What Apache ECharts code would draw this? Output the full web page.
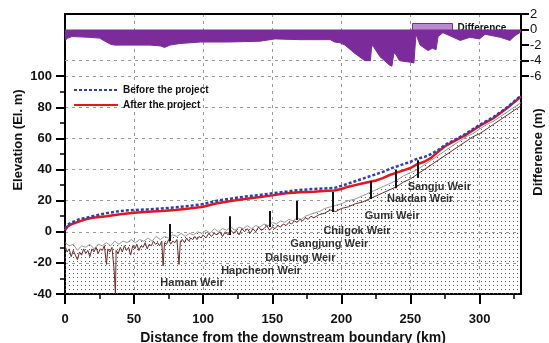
<!DOCTYPE html>
<html>
<head>
<meta charset="utf-8">
<script src="https://cdn.jsdelivr.net/npm/echarts@6/dist/echarts.min.js"></script>
<style>
  html, body { margin: 0; padding: 0; background: #fff; }
  #chart { width: 549px; height: 343px; }
</style>
</head>
<body>
<div id="chart"></div>
<script>
// axis ticks
const xTicks = [0, 50, 100, 150, 200, 250, 300];
const xMinorTicks = [25, 75, 125, 175, 225, 275, 325];
const elevTicks = [-40, -20, 0, 20, 40, 60, 80, 100];
const elevMinorTicks = [-30, -10, 10, 30, 50, 70, 90];
const diffTicks = [2, 0, -2, -4, -6];

// water surface [km, El. m]
const waterBefore = [
  [0, 2], [2, 4.5], [5, 6], [10, 8], [15, 9], [20, 10], [25, 11], [30, 12], [40, 13.4],
  [50, 14], [60, 14.4], [70, 15], [80, 15.7], [90, 16.6], [100, 17.8], [110, 20], [120, 21.3],
  [130, 22.6], [140, 23.6], [150, 24.7], [160, 25.8], [170, 26.9], [180, 27.5], [190, 28],
  [195, 28.2], [200, 29.5], [205, 31], [210, 32.5], [215, 34], [220, 35.5], [225, 37],
  [230, 38.5], [235, 40.5], [240, 42], [245, 43.5], [250, 45], [255, 47], [260, 48], [265, 50],
  [270, 52.5], [275, 55.8], [280, 58.2], [286, 61], [290, 63], [300, 68.7], [310, 73.7],
  [320, 80], [330, 87.5]
];
const waterAfter = [
  [0, 1], [2, 3.5], [5, 5], [10, 6.5], [15, 8], [20, 9], [25, 9.5], [30, 10], [40, 11.2],
  [50, 12.3], [60, 12.9], [70, 13.4], [80, 14], [90, 15], [100, 16.1], [110, 18.3], [120, 19.8],
  [130, 21], [140, 22.2], [150, 23.4], [160, 24.7], [170, 25.4], [180, 25.8], [190, 26.4],
  [195, 26.5], [200, 27.5], [205, 29], [210, 30], [215, 31], [220, 32], [225, 33], [230, 34.5],
  [235, 36.5], [240, 38], [245, 39.5], [250, 41], [255, 43.5], [260, 45], [265, 47.5],
  [270, 51.5], [275, 55], [280, 57.5], [286, 60.3], [290, 62.3], [300, 68], [310, 73],
  [320, 79.5], [330, 87]
];

// river bed [km, El. m]
const bedBefore = [
  [0, -7], [3, -9], [6, -8], [9, -12], [12, -9], [15, -10], [18, -8], [21, -11], [24, -8],
  [27, -9], [30, -7], [33, -9], [36, -6], [39, -8], [42, -6], [45, -7], [48, -5], [51, -7],
  [54, -5], [57, -6], [60, -4], [63, -6], [66, -3], [69, -5], [72, -3], [75, -4], [78, -2],
  [81, -3], [84, -1], [87, -3], [90, -1], [93, -2], [96, 0], [99, -1], [102, 1], [105, -1],
  [108, 2], [111, 0], [114, 2], [117, 1], [120, 3], [123, 1], [126, 3], [129, 2], [132, 4],
  [135, 2], [138, 4], [141, 3], [144, 5], [147, 4], [150, 6], [153, 5], [156, 7], [159, 6],
  [162, 8], [165, 7], [168, 9], [171, 8], [174, 10], [177, 11], [180, 12], [184, 13], [188, 15],
  [192, 16], [196, 17], [200, 18], [205, 20], [210, 21], [215, 23], [220, 25], [225, 27],
  [230, 29], [235, 31], [240, 33], [245, 36], [250, 38], [255, 40], [260, 43], [265, 46],
  [270, 49], [275, 52], [280, 55], [285, 58], [290, 61], [295, 63], [300, 66], [305, 69],
  [310, 71], [315, 74], [320, 77], [325, 80], [330, 83]
];
const bedAfter = [
  [0, -9], [1.5, -13], [3, -11], [4.5, -16], [6, -12], [7.5, -15], [9, -18], [10.5, -13],
  [12, -15], [13.5, -11], [15, -14], [16.5, -12], [18, -16], [19.5, -11], [21, -13], [22.5, -10],
  [24, -14], [25.5, -11], [27, -12], [28.5, -9], [30, -21], [31, -11], [32.5, -13], [34, -10],
  [35.5, -24], [36.5, -40], [37, -12], [38.5, -14], [40, -10], [41.5, -13], [43, -9], [44.5, -12],
  [46, -10], [47.5, -15], [49, -9], [50.5, -11], [52, -8], [53.5, -12], [55, -9], [56.5, -10],
  [58, -7], [59.5, -11], [61, -8], [62.5, -9], [64, -6], [65.5, -8], [67, -7], [68.5, -9],
  [70, -6], [71, -22], [72, -7], [73.5, -8], [75, -5], [76.5, -8], [78, -6], [79.5, -7],
  [81, -5], [82.5, -21], [83.5, -6], [85, -5], [86.5, -7], [88, -4], [89.5, -6], [91, -4],
  [92.5, -5], [94, -3], [95.5, -5], [97, -3], [98.5, -4], [100, -2], [102, -4], [104, -1],
  [106, -3], [108, -1], [110, -2], [112, 0], [114, -3], [116, 0], [118, -2], [120, 1],
  [122, -1], [124, 1], [126, -2], [128, 2], [130, 0], [132, 2], [134, -1], [136, 2], [138, 0],
  [140, 3], [142, 1], [144, 2], [146, 4], [148, 1], [150, 3], [152, 2], [154, 4], [156, 3],
  [158, 5], [160, 4], [162, 6], [164, 5], [166, 7], [168, 6], [170, 8], [172, 7], [174, 9],
  [176, 8], [178, 10], [180, 9], [184, 11], [188, 12], [192, 14], [196, 13], [200, 15],
  [205, 16], [210, 18], [215, 19], [220, 21], [225, 23], [230, 25], [235, 27], [240, 29],
  [245, 32], [250, 34], [255, 37], [260, 40], [265, 43], [270, 46], [275, 49], [280, 52],
  [285, 55], [290, 58], [295, 61], [300, 63], [305, 66], [310, 69], [315, 72], [320, 75],
  [325, 78], [330, 81]
];

// water level difference [km, m]
const difference = [
  [0, -1.4], [2, -1.1], [5, -0.9], [18, -1.0], [25, -1.1], [29, -1.5], [33, -1.9], [36, -2.0],
  [47, -2.0], [61.5, -2.0], [69, -2.1], [72, -2.3], [76, -2.0], [83, -1.8], [98, -1.6],
  [119, -1.6], [141, -1.5], [152, -1.2], [170, -1.3], [192, -1.3], [195, -1.6], [199, -1.7],
  [202.6, -2.0], [210, -3.1], [217, -4.0], [221, -4.0], [222, -2.0], [223.6, -2.3], [228, -3.5],
  [235, -4.6], [236.6, -4.7], [238, -3.0], [239.5, -3.2], [242, -4.0], [250, -4.2],
  [252.5, -4.3], [254, -0.6], [257, -2.0], [262.7, -2.7], [266, -2.4], [268.5, -2.6],
  [270, -0.9], [273.5, -0.4], [278.6, -0.8], [286, -1.4], [293, -1.0], [300, -1.2],
  [304, -0.6], [315, -1.0], [322, -1.4], [325.6, -0.8], [330, -0.3]
];

// weirs
const weirNames = ['Haman Weir', 'Hapcheon Weir', 'Dalsung Weir', 'Gangjung Weir',
  'Chilgok Weir', 'Gumi Weir', 'Nakdan Weir', 'Sangju Weir'];
const weirKm = [76, 119, 148, 168, 194, 221, 239, 255];
const weirTop = [5, 10, 13.4, 19.8, 25.6, 32.6, 39.7, 46];
const weirBottom = [-6, -2, 3, 7.6, 12.7, 21, 28, 34.6];
const weirLabelKm = [69, 113, 145, 163, 187, 217, 233, 248];
const weirLabelElev = [-33, -25, -17, -8, 0.5, 10, 21, 29];

// dotted soil pattern
const dots = document.createElement('canvas');
dots.width = 4; dots.height = 4;
const dctx = dots.getContext('2d');
dctx.fillStyle = '#555';
dctx.fillRect(1, 1, 1, 1);

const chart = echarts.init(document.getElementById('chart'), null, { renderer: 'canvas' });

const axisFont = { fontFamily: 'Arial, Liberation Sans, sans-serif', fontWeight: 'bold', fontSize: 13, color: '#111' };
const dashed = { type: [3, 4], color: '#999', width: 1 };

const option = {
  animation: false,
  backgroundColor: '#fff',
  grid: { left: 65, right: 28, top: 14, bottom: 49, outerBoundsMode: 'none', containLabel: false },
  legend: [
    {
      data: [{ name: 'Difference', icon: 'rect', itemStyle: { color: '#b98bcc', borderColor: '#7b2c9a', borderWidth: 1 } }],
      left: 407, top: 18, itemWidth: 40, itemHeight: 9, itemGap: 4,
      textStyle: { fontFamily: 'Arial, sans-serif', fontWeight: 'bold', fontSize: 10, color: '#111' }
    },
    {
      data: ['Before the project', 'After the project'],
      orient: 'vertical', left: 68, top: 80, itemWidth: 44, itemHeight: 10, itemGap: 5,
      itemStyle: { opacity: 0 },
      textStyle: { fontFamily: 'Arial, sans-serif', fontWeight: 'bold', fontSize: 10, color: '#111' }
    }
  ],
  xAxis: [
    {
      type: 'value', min: 0, max: 330, interval: 50,
      axisLine: { onZero: false, lineStyle: { color: '#000', width: 2 } },
      axisTick: { customValues: xTicks, length: 10, lineStyle: { color: '#000', width: 2 } },
      axisLabel: { customValues: xTicks, margin: 19, ...axisFont },
      splitLine: { show: true, lineStyle: dashed },
      name: 'Distance from the downstream boundary (km)', nameLocation: 'middle', nameGap: 32,
      nameTextStyle: { fontFamily: 'Arial, sans-serif', fontWeight: 'bold', fontSize: 14, color: '#111' }
    },
    {
      type: 'value', min: 0, max: 330, position: 'bottom',
      axisLine: { show: false, onZero: false },
      axisTick: { customValues: xMinorTicks, length: 5, lineStyle: { color: '#000', width: 1.5 } },
      axisLabel: { show: false }, splitLine: { show: false }
    },
    {
      type: 'value', min: 0, max: 330, position: 'top',
      axisLine: { onZero: false, lineStyle: { color: '#000', width: 2 } },
      axisTick: { show: false }, axisLabel: { show: false }, splitLine: { show: false }
    }
  ],
  yAxis: [
    {
      type: 'value', min: -40, max: 140, interval: 20,
      axisLine: { show: true, onZero: false, lineStyle: { color: '#000', width: 2 } },
      axisTick: { customValues: elevTicks, length: 9, lineStyle: { color: '#000', width: 2 } },
      axisLabel: { customValues: elevTicks, margin: 13, ...axisFont },
      splitLine: { show: true, lineStyle: dashed }
    },
    {
      type: 'value', min: -34, max: 2, interval: 2, position: 'right',
      axisLine: { show: true, onZero: false, lineStyle: { color: '#000', width: 2 } },
      axisTick: { customValues: diffTicks, length: 8, lineStyle: { color: '#000', width: 2 } },
      axisLabel: { customValues: diffTicks, margin: 9, fontFamily: 'Arial, sans-serif', fontSize: 13, color: '#111' },
      splitLine: { show: false }
    },
    {
      type: 'value', min: -40, max: 140, position: 'left',
      axisLine: { show: false, onZero: false },
      axisTick: { customValues: elevMinorTicks, length: 5, lineStyle: { color: '#000', width: 1.5 } },
      axisLabel: { show: false }, splitLine: { show: false }
    }
  ],
  graphic: [
    {
      type: 'text', x: 18, y: 140, rotation: Math.PI / 2,
      style: { text: 'Elevation (El. m)', font: 'bold 13px Arial, sans-serif', fill: '#111', align: 'center', verticalAlign: 'middle' }
    },
    {
      type: 'text', x: 538, y: 152, rotation: Math.PI / 2,
      style: { text: 'Difference (m)', font: 'bold 13px Arial, sans-serif', fill: '#111', align: 'center', verticalAlign: 'middle' }
    }
  ],
  series: [
    {
      name: 'Bed before', type: 'line', data: bedBefore, symbol: 'none', z: 1,
      lineStyle: { color: '#9a9a9a', width: 1 },
      areaStyle: { origin: 'start', color: { image: dots, repeat: 'repeat' }, opacity: 1 }
    },
    {
      name: 'Bed after', type: 'line', data: bedAfter, symbol: 'none', z: 2,
      lineStyle: { color: '#6e2a2a', width: 1 }
    },
    {
      name: 'Weirs', type: 'scatter', symbolSize: 0, z: 3,
      data: weirNames.map((n, i) => ({ name: n, value: [weirLabelKm[i], weirLabelElev[i]] })),
      label: {
        show: true, position: 'right', distance: 0, formatter: p => p.name,
        fontFamily: 'Arial, sans-serif', fontWeight: 'bold', fontSize: 11, color: '#000'
      },
      markLine: {
        silent: true, symbol: ['none', 'none'], label: { show: false },
        lineStyle: { color: '#111', width: 2, type: 'solid' },
        data: weirKm.map((k, i) => [{ coord: [k, weirBottom[i]] }, { coord: [k, weirTop[i]] }])
      }
    },
    {
      name: 'Before the project', type: 'line', data: waterBefore, symbol: 'none', z: 5,
      lineStyle: { color: '#2f3fb2', width: 2.5, type: [3, 2] },
      itemStyle: { color: '#2f3fb2' }
    },
    {
      name: 'After the project', type: 'line', data: waterAfter, symbol: 'none', z: 4,
      lineStyle: { color: '#e3161d', width: 2.5 },
      itemStyle: { color: '#e3161d' }
    },
    {
      name: 'Difference', type: 'line', data: difference, yAxisIndex: 1, symbol: 'none', z: 6,
      lineStyle: { color: '#7b2c9a', width: 1 },
      itemStyle: { color: '#7b2c9a' },
      areaStyle: { color: '#7b2c9a', opacity: 1 },
      markLine: {
        silent: true, symbol: ['none', 'none'], label: { show: false },
        lineStyle: dashed, data: [{ yAxis: -4 }]
      }
    }
  ]
};

chart.setOption(option);
</script>
</body>
</html>
